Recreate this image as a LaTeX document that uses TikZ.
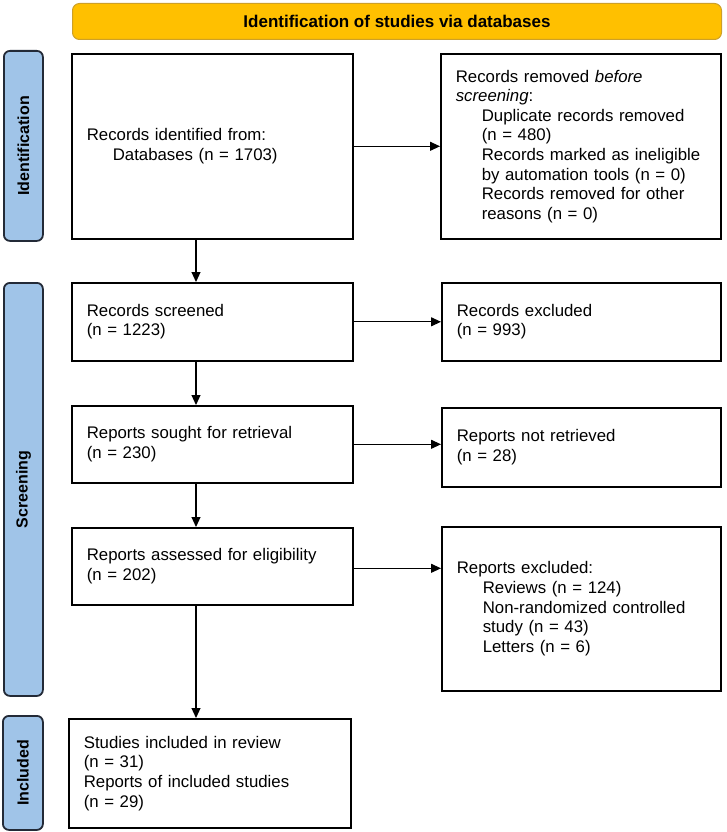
\documentclass[tikz,border=0pt]{standalone}
\usepackage{fontspec}
\setmainfont{Liberation Sans}
\usetikzlibrary{arrows.meta,calc}
\definecolor{sidefill}{RGB}{160,196,232}
\definecolor{sideline}{RGB}{35,42,55}
\definecolor{headfill}{RGB}{255,192,0}
\definecolor{headline}{RGB}{205,160,40}
\tikzset{
  box/.style={draw=black, line width=1.6pt, anchor=north west, inner xsep=15pt, inner ysep=0pt,
    align=left, font=\fontsize{16.8}{19.6}\selectfont},
  side/.style={draw=sideline, fill=sidefill, line width=1.8pt, rounded corners=6pt, anchor=north west,
    inner sep=0pt, font=\bfseries\fontsize{16}{18}\selectfont},
  head/.style={draw=headline, fill=headfill, line width=1pt, rounded corners=7pt, anchor=north west,
    inner sep=0pt, font=\bfseries\fontsize{17}{19}\selectfont},
  arr/.style={line width=1.1pt, -{Triangle[length=10pt,width=9pt]}}
}
\newcommand{\ind}{\hspace*{26pt}}
\begin{document}
\begin{tikzpicture}[x=1pt,y=-1pt]
\useasboundingbox (0,0) rectangle (726,832);
% header
\node[head, minimum width=649pt, minimum height=36pt] (hd) at (72,3) {Identification of studies via databases};
% side bars
\node[side, minimum width=39pt, minimum height=190pt] (s1) at (3,50) {};
\node[rotate=90, font=\bfseries\fontsize{16}{18}\selectfont] (s1t) at (s1.center) {Identification};
\node[side, minimum width=39pt, minimum height=413pt] (s2) at (3,282) {};
\node[rotate=90, font=\bfseries\fontsize{16}{18}\selectfont] (s2t) at (s2.center) {Screening};
\node[side, minimum width=40pt, minimum height=114pt] (s3) at (2,715) {};
\node[rotate=90, font=\bfseries\fontsize{16}{18}\selectfont] (s3t) at (s3.center) {Included};
% boxes
\node[box, text width=251pt, minimum height=185pt] (b1) at (71,53)
  {Records identified from:\\ \ind Databases (n = 1703)};
\node[box, text width=250pt, minimum height=185pt] (b2) at (440,53)
  {Records removed \textit{before}\\ \textit{screening}:\\
   \ind Duplicate records removed\\ \ind (n = 480)\\
   \ind Records marked as ineligible\\ \ind by automation tools (n = 0)\\
   \ind Records removed for other\\ \ind reasons (n = 0)};
\node[box, text width=251pt, minimum height=78pt] (b3) at (71,282)
  {Records screened\\ (n = 1223)};
\node[box, text width=249pt, minimum height=78pt] (b4) at (441,282)
  {Records excluded\\ (n = 993)};
\node[box, text width=251pt, minimum height=77pt] (b5) at (71,405)
  {Reports sought for retrieval\\ (n = 230)};
\node[box, text width=249pt, minimum height=79pt] (b6) at (441,407)
  {Reports not retrieved\\ (n = 28)};
\node[box, text width=251pt, minimum height=77pt] (b7) at (71,527)
  {Reports assessed for eligibility\\ (n = 202)};
\node[box, text width=249pt, minimum height=164pt] (b8) at (441,526)
  {Reports excluded:\\ \ind Reviews (n = 124)\\ \ind Non-randomized controlled\\
   \ind study (n = 43)\\ \ind Letters (n = 6)\\[14pt]};
\node[box, text width=252pt, minimum height=109pt] (b9) at (68,718)
  {Studies included in review\\ (n = 31)\\ Reports of included studies\\ (n = 29)};
% connectors
\coordinate (vx) at (196,0);
\draw[arr] (b1.east) -- (b1.east -| b2.west);
\draw[arr] (b3.east) -- (b3.east -| b4.west);
\draw[arr] (b5.east) -- (b5.east -| b6.west);
\draw[arr] ($(b7.east)+(0,2)$) -- ($(b7.east -| b8.west)+(0,2)$);
\draw[arr] (b1.south -| vx) -- (b3.north -| vx);
\draw[arr] (b3.south -| vx) -- (b5.north -| vx);
\draw[arr] (b5.south -| vx) -- (b7.north -| vx);
\draw[arr] (b7.south -| vx) -- (b9.north -| vx);
\end{tikzpicture}
\end{document}
